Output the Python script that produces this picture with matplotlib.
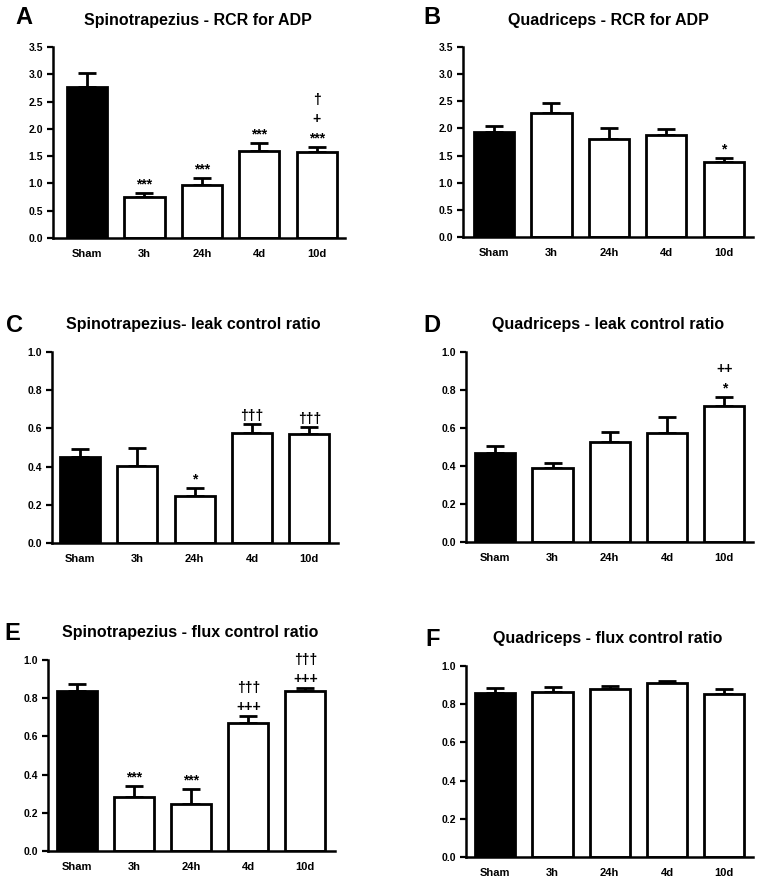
import matplotlib
matplotlib.use("Agg")
import matplotlib.pyplot as plt

plt.rcParams['font.family'] = ['Liberation Sans', 'DejaVu Sans']
plt.rcParams['font.weight'] = 'bold'

groups = ["Sham", "3h", "24h", "4d", "10d"]

# panel A: spinotrapezius RCR for ADP
rcr_spino = [2.77, 0.76, 0.97, 1.59, 1.58]
rcr_spino_err = [0.25, 0.06, 0.13, 0.15, 0.09]
rcr_spino_sig = [[], ["***"], ["***"], ["***"], ["***", "+", "†"]]

# panel B: quadriceps RCR for ADP
rcr_quad = [1.93, 2.28, 1.81, 1.88, 1.375]
rcr_quad_err = [0.11, 0.19, 0.20, 0.11, 0.085]
rcr_quad_sig = [[], [], [], [], ["*"]]

# panel C: spinotrapezius leak control ratio
leak_spino = [0.45, 0.405, 0.244, 0.576, 0.572]
leak_spino_err = [0.04, 0.091, 0.046, 0.045, 0.035]
leak_spino_sig = [[], [], ["*"], ["†††"], ["†††"]]

# panel D: quadriceps leak control ratio
leak_quad = [0.467, 0.388, 0.528, 0.575, 0.715]
leak_quad_err = [0.036, 0.030, 0.052, 0.082, 0.049]
leak_quad_sig = [[], [], [], [], ["*", "++"]]

# panel E: spinotrapezius flux control ratio
flux_spino = [0.837, 0.283, 0.248, 0.671, 0.839]
flux_spino_err = [0.037, 0.058, 0.075, 0.037, 0.016]
flux_spino_sig = [[], ["***"], ["***"], ["+++", "†††"], ["+++", "†††"]]

# panel F: quadriceps flux control ratio
flux_quad = [0.86, 0.865, 0.878, 0.913, 0.851]
flux_quad_err = [0.026, 0.027, 0.017, 0.007, 0.027]
flux_quad_sig = [[], [], [], [], []]

W, H = 762, 883
fig = plt.figure(figsize=(W / 100, H / 100), dpi=100)


def px_axes(left, right, bottom, top):
    return fig.add_axes([left / W, 1 - bottom / H, (right - left) / W, (bottom - top) / H])


def panel(box, xlim, vals, errs, sigs, ymax, ystep, letter, letter_xy, title, title_xy):
    ax = px_axes(*box)
    x = list(range(len(groups)))
    colors = ["black"] + ["white"] * (len(groups) - 1)
    ax.bar(x, vals, width=0.7, color=colors, edgecolor="black", linewidth=2.0, zorder=2)
    ax.errorbar(x, vals, yerr=[[0] * len(vals), errs], fmt="none", ecolor="black",
                elinewidth=2.0, capsize=6.5, capthick=2.0, zorder=1)
    for xi, v, e, labs in zip(x, vals, errs, sigs):
        for k, lab in enumerate(labs):
            ax.annotate(lab, (xi, v + e), xytext=(0, 1 + 14 * k), textcoords="offset points",
                        ha="center", va="bottom", fontsize=10, fontweight="bold")
    ax.set_xlim(*xlim)
    ax.set_ylim(0, ymax)
    ticks = [i * ystep for i in range(int(round(ymax / ystep)) + 1)]
    ax.set_yticks(ticks)
    ax.set_yticklabels(["{:.1f}".format(t) for t in ticks], fontsize=7.5, fontweight="bold")
    ax.set_xticks(x)
    ax.set_xticklabels(groups, fontsize=8, fontweight="bold")
    ax.tick_params(axis="x", length=0, pad=8)
    ax.tick_params(axis="y", length=4, width=1.6, pad=3)
    for s in ["top", "right"]:
        ax.spines[s].set_visible(False)
    for s in ["left", "bottom"]:
        ax.spines[s].set_linewidth(1.8)
    fig.text(letter_xy[0] / W, 1 - letter_xy[1] / H, letter, fontsize=17, fontweight="bold",
             ha="left", va="center")
    fig.text(title_xy[0] / W, 1 - title_xy[1] / H, title, fontsize=11.5, fontweight="bold",
             ha="center", va="center")
    return ax


panel((53, 345, 238, 47), (-0.59, 4.49), rcr_spino, rcr_spino_err, rcr_spino_sig,
      3.5, 0.5, "A", (15, 17), "Spinotrapezius - RCR for ADP", (198, 21))
panel((463, 753, 237, 47), (-0.54, 4.51), rcr_quad, rcr_quad_err, rcr_quad_sig,
      3.5, 0.5, "B", (423, 17), "Quadriceps - RCR for ADP", (608, 21))
panel((52, 338, 543, 352), (-0.49, 4.5), leak_spino, leak_spino_err, leak_spino_sig,
      1.0, 0.2, "C", (6, 325), "Spinotrapezius- leak control ratio", (193, 325))
panel((466, 753, 542, 352), (-0.51, 4.5), leak_quad, leak_quad_err, leak_quad_sig,
      1.0, 0.2, "D", (423, 325), "Quadriceps - leak control ratio", (608, 325))
panel((48, 335, 851, 660), (-0.51, 4.52), flux_spino, flux_spino_err, flux_spino_sig,
      1.0, 0.2, "E", (4, 633), "Spinotrapezius - flux control ratio", (190, 633))
panel((466, 753, 857, 666), (-0.51, 4.5), flux_quad, flux_quad_err, flux_quad_sig,
      1.0, 0.2, "F", (425, 639), "Quadriceps - flux control ratio", (608, 639))

fig.savefig("out.png", dpi=100)
